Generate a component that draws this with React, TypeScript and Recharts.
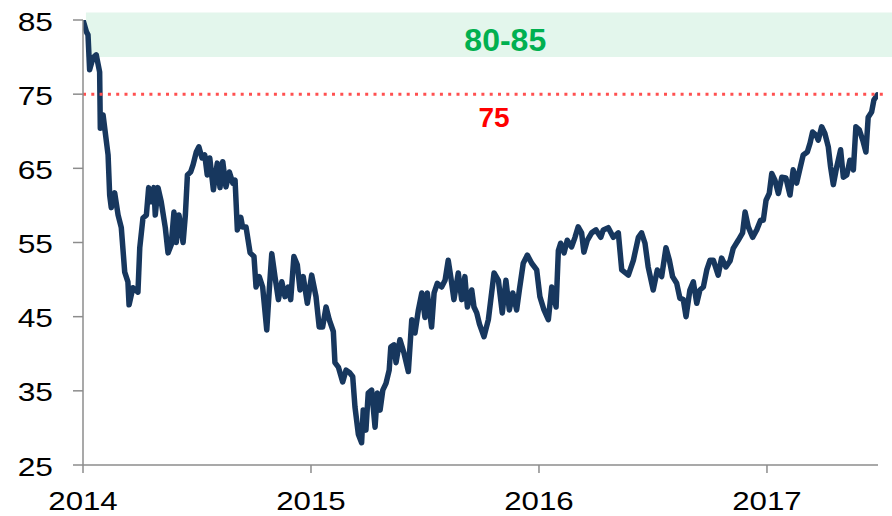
import {
  LineChart,
  Line,
  XAxis,
  YAxis,
  ReferenceArea,
  ReferenceLine,
  Label,
} from "recharts";

// decimal year, index value
const series2014: [number, number][] = [
  [2014.0, 85.0], [2014.015, 83.4], [2014.022, 83.0], [2014.029, 78.3], [2014.044, 79.9],
  [2014.058, 80.3], [2014.073, 78.0], [2014.076, 70.4], [2014.088, 72.2], [2014.11, 66.8],
  [2014.117, 61.4], [2014.124, 59.7], [2014.139, 61.7], [2014.154, 58.7], [2014.168, 57.0],
  [2014.183, 51.0], [2014.197, 49.7], [2014.202, 46.6], [2014.219, 48.9], [2014.241, 48.3],
  [2014.249, 54.3], [2014.263, 58.3], [2014.278, 58.7], [2014.288, 62.4], [2014.3, 60.5],
  [2014.311, 62.4], [2014.317, 58.7], [2014.329, 62.4], [2014.343, 60.5], [2014.361, 57.0],
  [2014.373, 53.6], [2014.387, 54.7], [2014.399, 59.1], [2014.409, 55.0], [2014.421, 58.7],
  [2014.439, 55.0], [2014.449, 58.7], [2014.458, 64.1], [2014.472, 64.5], [2014.483, 65.5],
  [2014.497, 67.2], [2014.508, 67.9], [2014.522, 66.4], [2014.534, 66.8], [2014.545, 64.1],
  [2014.556, 66.4], [2014.572, 62.1], [2014.589, 65.7], [2014.601, 62.4], [2014.613, 65.9],
  [2014.627, 62.5], [2014.642, 64.5], [2014.657, 63.0], [2014.667, 63.4], [2014.677, 56.7],
  [2014.692, 58.4], [2014.7, 57.1], [2014.715, 57.1], [2014.733, 53.6], [2014.75, 53.1],
  [2014.759, 49.0], [2014.773, 50.4], [2014.788, 49.0], [2014.806, 43.2], [2014.817, 48.6],
  [2014.828, 53.5], [2014.842, 50.4], [2014.857, 47.3], [2014.872, 49.7], [2014.886, 47.7],
  [2014.9, 49.0], [2014.911, 47.3], [2014.925, 53.1], [2014.94, 52.0], [2014.952, 48.6],
  [2014.966, 50.4], [2014.984, 46.8],
];

const series2015: [number, number][] = [
  [2015.003, 50.6], [2015.022, 47.7], [2015.036, 43.6], [2015.051, 43.6], [2015.066, 46.3],
  [2015.08, 44.6], [2015.098, 43.0], [2015.105, 38.8], [2015.12, 38.2], [2015.139, 36.2],
  [2015.154, 37.8], [2015.171, 37.4], [2015.183, 36.9], [2015.193, 32.8], [2015.208, 29.1],
  [2015.222, 28.0], [2015.229, 32.4], [2015.241, 29.7], [2015.251, 34.7], [2015.266, 35.1],
  [2015.281, 30.1], [2015.291, 34.7], [2015.303, 32.4], [2015.315, 35.1], [2015.329, 36.0],
  [2015.343, 37.8], [2015.35, 40.9], [2015.364, 41.2], [2015.373, 38.8], [2015.39, 41.9],
  [2015.408, 40.1], [2015.427, 37.6], [2015.442, 44.6], [2015.456, 42.8], [2015.471, 45.9],
  [2015.486, 48.2], [2015.5, 44.9], [2015.51, 48.2], [2015.529, 43.6], [2015.54, 48.2],
  [2015.554, 49.5], [2015.573, 49.0], [2015.588, 49.9], [2015.602, 52.6], [2015.613, 50.4],
  [2015.627, 47.3], [2015.646, 50.9], [2015.661, 47.3], [2015.675, 50.4], [2015.686, 46.3],
  [2015.705, 48.6], [2015.715, 46.3], [2015.727, 45.5], [2015.739, 44.0], [2015.759, 42.3],
  [2015.778, 44.6], [2015.803, 50.9], [2015.822, 49.9], [2015.839, 45.5], [2015.855, 49.9],
  [2015.87, 45.9], [2015.885, 48.2], [2015.902, 45.9], [2015.914, 48.6], [2015.931, 52.2],
  [2015.949, 53.3], [2015.968, 52.2], [2015.99, 51.3],
];

const series2016: [number, number][] = [
  [2016.004, 47.7], [2016.022, 45.9], [2016.041, 44.6], [2016.056, 49.0], [2016.075, 46.3],
  [2016.085, 53.9], [2016.095, 54.9], [2016.11, 53.6], [2016.124, 55.3], [2016.143, 54.4],
  [2016.158, 55.7], [2016.172, 57.1], [2016.187, 56.3], [2016.197, 53.7], [2016.212, 55.3],
  [2016.231, 56.3], [2016.25, 56.7], [2016.271, 55.7], [2016.282, 56.7], [2016.304, 57.0],
  [2016.326, 55.7], [2016.348, 56.3], [2016.363, 51.3], [2016.392, 50.6], [2016.414, 52.6],
  [2016.436, 55.7], [2016.45, 56.3], [2016.465, 54.9], [2016.479, 51.7], [2016.501, 48.6],
  [2016.519, 51.3], [2016.538, 50.4], [2016.557, 54.3], [2016.572, 52.6], [2016.586, 50.4],
  [2016.604, 49.5], [2016.618, 47.5], [2016.633, 47.3], [2016.645, 45.0], [2016.662, 48.6],
  [2016.677, 49.7], [2016.692, 46.8], [2016.706, 48.6], [2016.721, 49.0], [2016.736, 51.3],
  [2016.75, 52.6], [2016.765, 52.6], [2016.786, 50.6], [2016.801, 52.9], [2016.82, 51.7],
  [2016.838, 52.5], [2016.852, 54.2], [2016.874, 55.3], [2016.893, 56.3], [2016.904, 59.1],
  [2016.918, 57.1], [2016.937, 55.7], [2016.955, 56.7], [2016.972, 58.0], [2016.984, 58.0],
  [2016.996, 60.7],
];

const series2017: [number, number][] = [
  [2017.01, 61.6], [2017.021, 64.3], [2017.035, 63.4], [2017.05, 61.6], [2017.065, 63.8],
  [2017.083, 63.7], [2017.101, 61.4], [2017.115, 64.8], [2017.13, 63.0], [2017.145, 65.0],
  [2017.159, 66.8], [2017.177, 67.2], [2017.189, 68.4], [2017.2, 69.9], [2017.215, 69.5],
  [2017.225, 68.8], [2017.24, 70.6], [2017.254, 69.7], [2017.269, 67.9], [2017.279, 65.2],
  [2017.291, 62.8], [2017.306, 65.2], [2017.323, 67.5], [2017.335, 63.8], [2017.35, 64.1],
  [2017.364, 66.1], [2017.379, 64.8], [2017.39, 70.6], [2017.405, 70.2], [2017.42, 68.8],
  [2017.434, 67.2], [2017.444, 71.9], [2017.459, 72.6], [2017.469, 74.2], [2017.484, 74.9],
];

const yearTicks = [2014, 2015, 2016, 2017];
const valueTicks = [25, 35, 45, 55, 65, 75, 85];
const bandRange = [80, 86];
const bandText = "80-85";
const targetLevel = 75;
const targetText = "75";

const data = [...series2014, ...series2015, ...series2016, ...series2017].map(
  ([t, v]) => ({ t, v })
);

const FONT = "'Liberation Sans', Arial, sans-serif";
const AXIS = "#8c8c8c";

const YTick = ({ x, y, payload }: any) => (
  <text
    transform={`translate(${x},${y + 10.5}) scale(1.27,1)`}
    textAnchor="end"
    fontSize={25}
    fontFamily={FONT}
    fill="#000"
  >
    {payload.value}
  </text>
);

const XTick = ({ x, y, payload }: any) => (
  <text
    transform={`translate(${x},${y + 37}) scale(1.25,1)`}
    textAnchor="middle"
    fontSize={25}
    fontFamily={FONT}
    fill="#000"
  >
    {payload.value}
  </text>
);

const BandLabel = ({ viewBox }: any) => (
  <text
    x={viewBox.x + viewBox.width * 0.52}
    y={viewBox.y + 38}
    textAnchor="middle"
    fontSize={32}
    fontWeight="bold"
    fontFamily={FONT}
    fill="#00B050"
  >
    {bandText}
  </text>
);

const TargetLabel = ({ viewBox }: any) => (
  <text
    x={viewBox.x + 411}
    y={viewBox.y + 33}
    textAnchor="middle"
    fontSize={28}
    fontWeight="bold"
    fontFamily={FONT}
    fill="#FF0000"
  >
    {targetText}
  </text>
);

export default function App() {
  return (
    <div style={{ position: "absolute", left: 0, top: 0 }}>
      <LineChart
        width={892}
        height={516}
        data={data}
        margin={{ top: 20, right: 14, bottom: 0, left: 0 }}
      >
        <XAxis
          dataKey="t"
          type="number"
          domain={[2014, 2017.487]}
          ticks={yearTicks}
          height={51}
          tickSize={8}
          tickMargin={0}
          tick={<XTick />}
          axisLine={{ stroke: AXIS, strokeWidth: 1.5 }}
          tickLine={{ stroke: AXIS, strokeWidth: 1.5 }}
          allowDataOverflow
        />
        <YAxis
          type="number"
          domain={[25, 85]}
          ticks={valueTicks}
          width={83}
          tickSize={10}
          tickMargin={20}
          tick={<YTick />}
          axisLine={{ stroke: AXIS, strokeWidth: 1.5 }}
          tickLine={{ stroke: AXIS, strokeWidth: 1.5 }}
          allowDataOverflow
        />
        <Line
          type="linear"
          dataKey="v"
          stroke="#17375E"
          strokeWidth={5.5}
          strokeLinejoin="round"
          strokeLinecap="round"
          dot={false}
          activeDot={false}
          isAnimationActive={false}
        />
        <ReferenceArea
          x1={2014.013}
          x2={2017.55}
          y1={bandRange[0]}
          y2={bandRange[1]}
          fill="#00B050"
          fillOpacity={0.11}
          stroke="none"
          ifOverflow="visible"
        >
          <Label content={<BandLabel />} />
        </ReferenceArea>
        <ReferenceLine
          segment={[
            { x: 2014, y: targetLevel },
            { x: 2017.515, y: targetLevel },
          ]}
          stroke="#FF5050"
          strokeWidth={3}
          strokeDasharray="3 5.3"
          ifOverflow="visible"
        >
          <Label content={<TargetLabel />} />
        </ReferenceLine>
      </LineChart>
    </div>
  );
}
